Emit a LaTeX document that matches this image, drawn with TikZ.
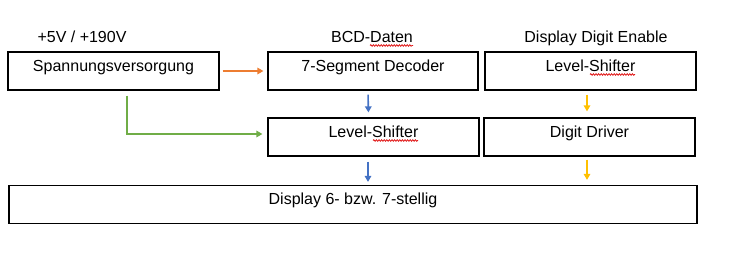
\documentclass[tikz,border=0pt]{standalone}
\usepackage{fontspec}
\setmainfont{Liberation Sans}
\usetikzlibrary{arrows.meta,decorations.pathmorphing}
\definecolor{offorange}{HTML}{ED7D31}
\definecolor{offblue}{HTML}{4472C4}
\definecolor{offgreen}{HTML}{70AD47}
\definecolor{offgold}{HTML}{FFC000}
\definecolor{spellred}{HTML}{E01818}
\begin{document}
\begin{tikzpicture}[x=1pt,y=-1pt,
  font=\fontsize{16pt}{18pt}\selectfont,
  box/.style={draw=black, line width=1.2pt, rectangle, inner sep=0pt,
    minimum height=38pt, text height=11.5pt, text depth=11pt},
  toplabel/.style={anchor=base, inner sep=0pt},
  arr/.style={line width=1.6pt, -{Triangle[length=6pt,width=6.5pt]}},
  wavy/.style={spellred, line width=0.8pt, decorate,
    decoration={snake, amplitude=0.8pt, segment length=2.6pt}}]
\useasboundingbox (0,0) rectangle (729,256);
% boxes
\node[box, minimum width=211pt] (sv)   at (113.5,71)   {Spannungsversorgung};
\node[box, minimum width=210pt] (dec)  at (373,71)     {7-Segment Decoder};
\node[box, minimum width=211pt] (ls1)  at (590.5,71)   {Level-Shifter};
\node[box, minimum width=211pt] (ls2)  at (373.5,137)  {Level-Shifter};
\node[box, minimum width=211pt] (dd)   at (589.5,137)  {Digit Driver};
\node[box, minimum width=688pt] (disp) at (353,204.5)  {Display 6- bzw. 7-stellig};
% top labels
\node[toplabel] (lv)  at (82,43)  {+5V / +190V};
\node[toplabel] (lb)  at (372,43) {BCD-Daten};
\node[toplabel] (le)  at (596,43) {Display Digit Enable};
% spell-check underlines
\draw[wavy] (370,45.5) -- (413,45.5);
\draw[wavy] (590,74.5) -- (635,74.5);
\draw[wavy] (373,140.5) -- (418,140.5);
% connectors
\draw[arr, offorange, shorten <=3pt, shorten >=4pt] (sv.east) -- (dec.west);
\draw[arr, offblue, shorten <=4pt, shorten >=5pt]
  ([xshift=-5pt]dec.south) -- ([xshift=-5pt]ls2.north);
\draw[arr, offblue, shorten <=5pt, shorten >=3pt]
  ([xshift=-5.5pt]ls2.south) -- ([xshift=15pt]disp.north);
\draw[arr, offgold, shorten <=4pt, shorten >=6pt]
  ([xshift=-3.5pt]ls1.south) -- ([xshift=-2.5pt]dd.north);
\draw[arr, offgold, shorten <=3pt, shorten >=5pt]
  ([xshift=-2.5pt]dd.south) -- ([xshift=234pt]disp.north);
\draw[arr, offgreen, shorten <=5pt, shorten >=5pt]
  ([xshift=13.5pt]sv.south) |- ([yshift=3pt]ls2.west);
\end{tikzpicture}
\end{document}
